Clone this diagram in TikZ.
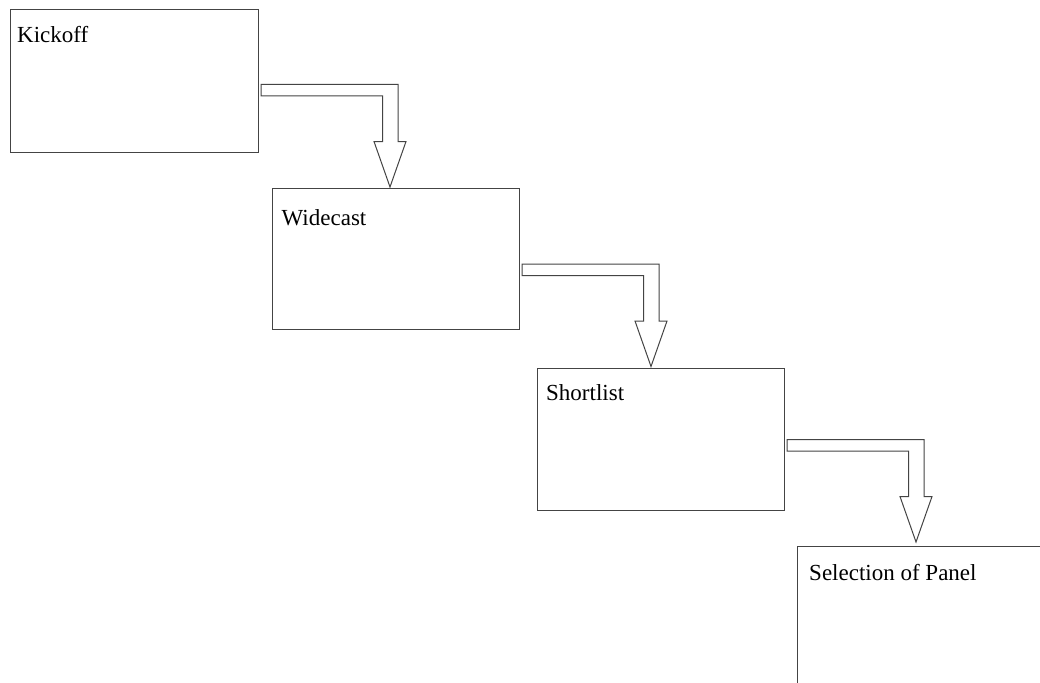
\documentclass[tikz,border=0pt]{standalone}
\usepackage{fontspec}
\setmainfont{Liberation Serif}
\definecolor{linegray}{RGB}{68,68,68}
\begin{document}
\begin{tikzpicture}[x=1pt,y=-1pt,
  stage/.style={draw=linegray, line width=1pt, rectangle, anchor=north west, inner sep=0pt},
  caption/.style={anchor=base west, inner sep=0pt, text=black, font=\fontsize{23}{27}\selectfont},
  flow/.style={draw=linegray, line width=1pt, fill=white, line join=miter},
  blockarrow/.pic={
    \draw[flow] (0,0) -- (137,0) -- (137,57) -- (145,57) -- (129,102.5)
      -- (113,57) -- (121.5,57) -- (121.5,11.5) -- (0,11.5) -- cycle;
  }]
\useasboundingbox (0,0) rectangle (1040,682);
\clip (0,0) rectangle (1040,682);
\fill[white] (0,0) rectangle (1040,682);

% the four stages
\node[stage, minimum width=247.5, minimum height=142] (kick) at (10,9.5) {};
\node[stage, minimum width=247, minimum height=141] (wide) at (271.5,188.3) {};
\node[stage, minimum width=247, minimum height=142] (short) at (536.5,368.3) {};
\node[stage, minimum width=300, minimum height=200] (panel) at (797.3,545.5) {};

% stage titles
\node[caption] (kickT) at (17,43) {Kickoff};
\node[caption] (wideT) at (281.5,225) {Widecast};
\node[caption] (shortT) at (546,400) {Shortlist};
\node[caption] (panelT) at (809,580) {Selection of Panel};

% hollow block arrows leading down to the next stage
\coordinate (a1) at (261,84.5);
\coordinate (a2) at (522,264);
\coordinate (a3) at (787,439.5);
\pic at (a1) {blockarrow};
\pic at (a2) {blockarrow};
\pic at (a3) {blockarrow};
\end{tikzpicture}
\end{document}
